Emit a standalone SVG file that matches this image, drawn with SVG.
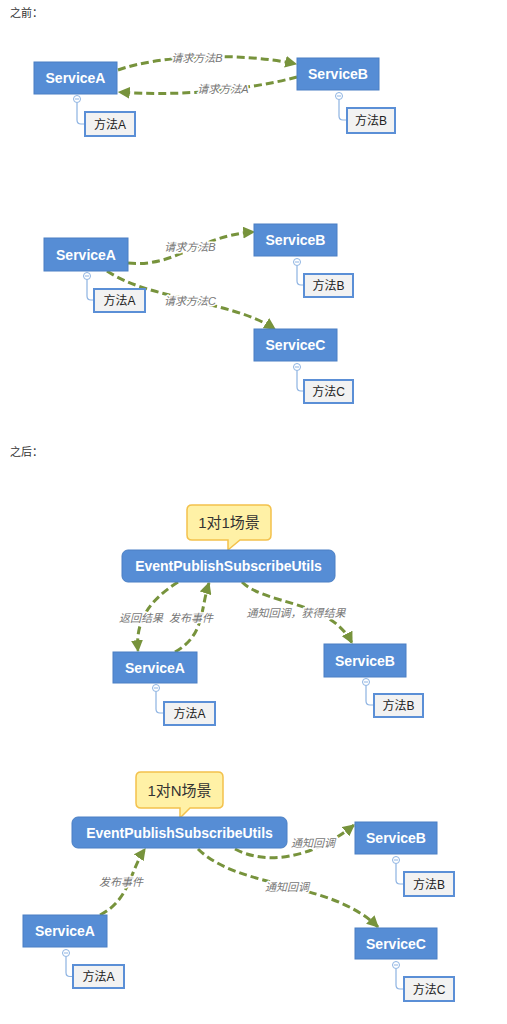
<svg xmlns="http://www.w3.org/2000/svg" width="507" height="1024" viewBox="0 0 507 1024">
<style>
.bg{fill:#ffffff}
.hdr{font-family:"Liberation Sans","Noto Sans CJK SC",sans-serif;font-size:11px;fill:#333}
.svc{fill:#568dd5;stroke:#4a7fc4;stroke-width:1}
.svt{font-family:"Liberation Sans","Noto Sans CJK SC",sans-serif;font-size:14px;font-weight:bold;fill:#fff;text-anchor:middle}
.mb{fill:#f2f2f2;stroke:#5b8fd6;stroke-width:2}
.mt{font-family:"Liberation Sans","Noto Sans CJK SC",sans-serif;font-size:12px;fill:#222;text-anchor:middle}
.tie{fill:none;stroke:#8db3e2;stroke-width:1.2}
.knob{fill:#fff;stroke:#8db3e2;stroke-width:1}
.con{fill:none;stroke:#77933c;stroke-width:3;stroke-dasharray:8 4}
.lbl{font-family:"Liberation Sans","Noto Sans CJK SC",sans-serif;font-size:11px;font-style:italic;fill:#777;text-anchor:middle;stroke:#fff;stroke-width:3;paint-order:stroke}
.call{fill:#fff1a6;stroke:#f3c14c;stroke-width:1.5}
.ct{font-family:"Liberation Sans","Noto Sans CJK SC",sans-serif;font-size:15px;fill:#333;text-anchor:middle}
</style>
<defs>
<marker id="ah" viewBox="0 0 10 10" refX="9" refY="5" markerWidth="12" markerHeight="12" markerUnits="userSpaceOnUse" orient="auto">
<path d="M0,0 L10,5 L0,10 z" fill="#77933c"/>
</marker>
</defs>
<rect class="bg" x="0" y="0" width="507" height="1024"/>
<text class="hdr" x="10" y="17">之前：</text>
<text class="hdr" x="10" y="456">之后：</text>

<g id="connectors">
<path class="con" d="M118,70 C160,55 240,52 296,64" marker-end="url(#ah)"/>
<path class="con" d="M297,77 C240,92 170,96 119,92" marker-end="url(#ah)"/>
<path class="con" d="M128,263 C175,268 200,235 254,232" marker-end="url(#ah)"/>
<path class="con" d="M107,271 C150,300 230,300 275,329" marker-end="url(#ah)"/>
<path class="con" d="M178,582 C150,600 135,620 138,651" marker-end="url(#ah)"/>
<path class="con" d="M175,652 C205,635 200,610 209,583" marker-end="url(#ah)"/>
<path class="con" d="M242,582 C265,605 330,600 352,643" marker-end="url(#ah)"/>
<path class="con" d="M100,915 C130,900 130,870 145,849" marker-end="url(#ah)"/>
<path class="con" d="M235,849 C265,865 310,860 354,825" marker-end="url(#ah)"/>
<path class="con" d="M198,849 C240,890 330,880 378,927" marker-end="url(#ah)"/>
<text class="lbl" x="197" y="62">请求方法B</text>
<text class="lbl" x="223" y="93">请求方法A</text>
<text class="lbl" x="190" y="251">请求方法B</text>
<text class="lbl" x="190" y="305">请求方法C</text>
<text class="lbl" x="141" y="622">返回结果</text>
<text class="lbl" x="191" y="622">发布事件</text>
<text class="lbl" x="296" y="617">通知回调，获得结果</text>
<text class="lbl" x="121" y="886">发布事件</text>
<text class="lbl" x="313" y="847">通知回调</text>
<text class="lbl" x="287" y="891">通知回调</text>
</g>

<!-- Section 1 -->
<g id="s1-serviceA">
<rect class="svc" x="34" y="62" width="83" height="32"/>
<text class="svt" x="75.5" y="83">ServiceA</text>
<path class="tie" d="M77,103 V120 Q77,124 81,124 H85"/>
<circle class="knob" cx="77" cy="99" r="3.5"/><path d="M75,99 H79" stroke="#8db3e2" stroke-width="1"/>
<rect class="mb" x="85" y="112" width="50" height="24"/>
<text class="mt" x="110" y="128.5">方法A</text>
</g>
<g id="s1-serviceB">
<rect class="svc" x="297" y="58" width="82" height="32"/>
<text class="svt" x="338" y="79">ServiceB</text>
<path class="tie" d="M339,100 V116 Q339,120 343,120 H347"/>
<circle class="knob" cx="339" cy="96" r="3.5"/><path d="M337,96 H341" stroke="#8db3e2" stroke-width="1"/>
<rect class="mb" x="347" y="108" width="48" height="25"/>
<text class="mt" x="371" y="125">方法B</text>
</g>

<!-- Section 2 -->
<g id="s2-serviceA">
<rect class="svc" x="44" y="238" width="84" height="33"/>
<text class="svt" x="86" y="259.5">ServiceA</text>
<path class="tie" d="M87,280 V296 Q87,300 91,300 H94"/>
<circle class="knob" cx="87" cy="276" r="3.5"/><path d="M85,276 H89" stroke="#8db3e2" stroke-width="1"/>
<rect class="mb" x="94" y="289" width="51" height="23"/>
<text class="mt" x="119.5" y="305">方法A</text>
</g>
<g id="s2-serviceB">
<rect class="svc" x="254" y="224" width="83" height="32"/>
<text class="svt" x="295.5" y="245">ServiceB</text>
<path class="tie" d="M297,266 V281 Q297,285 301,285 H304"/>
<circle class="knob" cx="297" cy="262" r="3.5"/><path d="M295,262 H299" stroke="#8db3e2" stroke-width="1"/>
<rect class="mb" x="304" y="274" width="49" height="23"/>
<text class="mt" x="328.5" y="290">方法B</text>
</g>
<g id="s2-serviceC">
<rect class="svc" x="254" y="329" width="83" height="32"/>
<text class="svt" x="295.5" y="350">ServiceC</text>
<path class="tie" d="M297,371 V387 Q297,391 301,391 H304"/>
<circle class="knob" cx="297" cy="367" r="3.5"/><path d="M295,367 H299" stroke="#8db3e2" stroke-width="1"/>
<rect class="mb" x="304" y="380" width="49" height="23"/>
<text class="mt" x="328.5" y="396">方法C</text>
</g>

<!-- Section 3 -->
<g id="s3-callout">
<path class="call" d="M192,505 H266 Q271,505 271,510 V535 Q271,540 266,540 H240 L228,550 L228,540 H192 Q187,540 187,535 V510 Q187,505 192,505 Z"/>
<text class="ct" x="229" y="528">1对1场景</text>
</g>
<g id="s3-utils">
<rect class="svc" x="122" y="550" width="213" height="32" rx="6"/>
<text class="svt" x="228.5" y="571">EventPublishSubscribeUtils</text>
</g>
<g id="s3-serviceA">
<rect class="svc" x="113" y="652" width="84" height="31"/>
<text class="svt" x="155" y="672.5">ServiceA</text>
<path class="tie" d="M156,692 V709 Q156,713 160,713 H164"/>
<circle class="knob" cx="156" cy="688" r="3.5"/><path d="M154,688 H158" stroke="#8db3e2" stroke-width="1"/>
<rect class="mb" x="164" y="702" width="51" height="23"/>
<text class="mt" x="189.5" y="718">方法A</text>
</g>
<g id="s3-serviceB">
<rect class="svc" x="324" y="644" width="82" height="33"/>
<text class="svt" x="365" y="665.5">ServiceB</text>
<path class="tie" d="M366,686 V701 Q366,705 370,705 H374"/>
<circle class="knob" cx="366" cy="682" r="3.5"/><path d="M364,682 H368" stroke="#8db3e2" stroke-width="1"/>
<rect class="mb" x="374" y="694" width="49" height="23"/>
<text class="mt" x="398.5" y="710">方法B</text>
</g>

<!-- Section 4 -->
<g id="s4-callout">
<path class="call" d="M141,772 H218 Q223,772 223,777 V803 Q223,808 218,808 H190 L180,818 L180,808 H141 Q136,808 136,803 V777 Q136,772 141,772 Z"/>
<text class="ct" x="179.5" y="795.5">1对N场景</text>
</g>
<g id="s4-utils">
<rect class="svc" x="72" y="817" width="215" height="31" rx="6"/>
<text class="svt" x="179.5" y="837.5">EventPublishSubscribeUtils</text>
</g>
<g id="s4-serviceA">
<rect class="svc" x="23" y="915" width="84" height="32"/>
<text class="svt" x="65" y="936">ServiceA</text>
<path class="tie" d="M66,957 V972.5 Q66,976.5 70,976.5 H73"/>
<circle class="knob" cx="66" cy="953" r="3.5"/><path d="M64,953 H68" stroke="#8db3e2" stroke-width="1"/>
<rect class="mb" x="73" y="965" width="51" height="23"/>
<text class="mt" x="98.5" y="981">方法A</text>
</g>
<g id="s4-serviceB">
<rect class="svc" x="355" y="822" width="82" height="32"/>
<text class="svt" x="396" y="843">ServiceB</text>
<path class="tie" d="M396,864 V880 Q396,884 400,884 H404"/>
<circle class="knob" cx="396" cy="860" r="3.5"/><path d="M394,860 H398" stroke="#8db3e2" stroke-width="1"/>
<rect class="mb" x="404" y="872" width="50" height="24"/>
<text class="mt" x="429" y="888.5">方法B</text>
</g>
<g id="s4-serviceC">
<rect class="svc" x="355" y="928" width="82" height="31"/>
<text class="svt" x="396" y="948.5">ServiceC</text>
<path class="tie" d="M396,969 V985 Q396,989 400,989 H404"/>
<circle class="knob" cx="396" cy="965" r="3.5"/><path d="M394,965 H398" stroke="#8db3e2" stroke-width="1"/>
<rect class="mb" x="404" y="977" width="50" height="24"/>
<text class="mt" x="429" y="993.5">方法C</text>
</g>
</svg>
